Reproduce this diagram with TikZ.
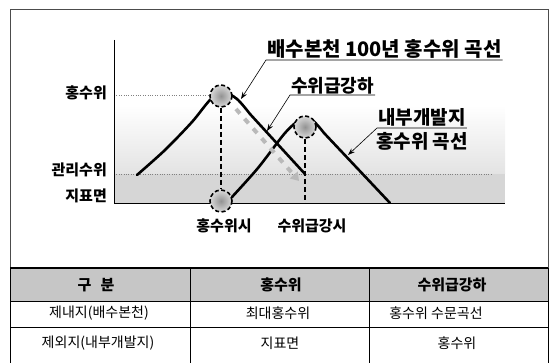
\documentclass[tikz,border=0pt]{standalone}
\usepackage{fontspec}
\setmainfont{Noto Sans CJK KR}
\usetikzlibrary{arrows.meta}

\tikzset{
  curve/.style={black, line width=2.6pt, line cap=round, line join=round},
  spot/.style={circle, draw=black, line width=1.6pt, dash pattern=on 4pt off 2.5pt,
    minimum size=22pt, inner sep=0pt, inner color=gray!85, outer color=gray!30},
  leader/.style={black, line width=0.6pt, -{Stealth[length=7pt,width=5pt]}},
  axislbl/.style={font=\bfseries\fontsize{15}{15}\selectfont, inner sep=1pt},
  toplbl/.style={font=\bfseries\fontsize{19}{19}\selectfont, inner sep=1pt},
  refline/.style={gray, thin, dotted},
  cell/.style={font=\fontsize{14}{14}\selectfont, inner sep=0pt},
  headcell/.style={font=\bfseries\fontsize{15}{15}\selectfont, inner sep=0pt},
}

\begin{document}
\begin{tikzpicture}[x=1pt, y=-1pt]
	\useasboundingbox (0,0) rectangle (551,363);

	% frame
	\draw[line width=0.8pt, gray!60!black] (10,268) -- (10,9) -- (548,9) -- (548,268);

	% water zones
	\shade[top color=white, bottom color=gray!22] (114,105) rectangle (505,174);
	\fill[gray!32] (114,174) rectangle (505,203);

	% levels
	\draw[refline] (114,95) -- (210,95);
	\draw[refline] (114,174) -- (493,174);

	% axes
	\draw[black, line width=0.8pt] (114,40) -- (114,203) -- (505,203);

	% level labels
	\node[axislbl, anchor=east] (hwl) at (108,93) {홍수위};
	\node[axislbl, anchor=east] (mwl) at (108,170) {관리수위};
	\node[axislbl, anchor=east] (gnd) at (108,196) {지표면};

	% time labels
	\node[axislbl] (tflood) at (224,226) {홍수위시};
	\node[axislbl] (tdrop) at (312,226) {수위급강시};

	% curves
	\draw[curve] plot[smooth, tension=.5] coordinates {(137,175) (165,150) (192,122) (210,100) (223,92) (237,99) (250,114)} -- (305,174);
	\draw[curve] plot[smooth, tension=.5] coordinates {(232,197) (258,168) (285,133) (300,120) (312,120) (324,133)} -- (390,203);

	% sudden drop
	\draw[gray!55, line width=4pt, dash pattern=on 6pt off 7pt, -{Triangle[length=8pt,width=10pt]}] (236,109) -- (299,181);

	% marked points
	\node[spot] (peakA) at (221,96) {};
	\node[spot] (baseA) at (221,201) {};
	\node[spot] (peakB) at (305,127) {};
	\coordinate (baseB) at (305,203);
	\draw[black, line width=1.4pt, dash pattern=on 5pt off 3pt] (peakA.south) -- (baseA.north);
	\draw[black, line width=1.4pt, dash pattern=on 5pt off 3pt] (peakB.south) -- (baseB);

	% callouts
	\coordinate (tipA) at (241,99);
	\coordinate (tipB) at (267,131);
	\coordinate (tipC) at (348,155);
	\node[toplbl, font=\bfseries\fontsize{20}{20}\selectfont, anchor=south west] (lblA) at (266,60) {배수본천 100년 홍수위 곡선};
	\node[toplbl, font=\bfseries\fontsize{18}{18}\selectfont, anchor=south west] (lblB) at (290,95) {수위급강하};
	\node[toplbl, anchor=south west] (lblC) at (377,128) {내부개발지};
	\node[toplbl, anchor=north west] (lblD) at (375,131) {홍수위 곡선};
	\draw[leader] (lblA.south east) -- (lblA.south west) -- (tipA);
	\draw[leader] (lblB.south east) -- (lblB.south west) -- (tipB);
	\draw[leader] (lblC.south east) -- (lblC.south west) -- (tipC);

	% table
	\fill[gray!45] (10,268) rectangle (548,301);
	\draw[line width=1.5pt] (10,268) -- (548,268);
	\draw[thin] (10,301) -- (548,301);
	\draw[thin] (10,327) -- (548,327);
	\foreach \x in {10,190,369,548}
		\draw[thin] (\x,268) -- (\x,363);

	\node[headcell] (h1) at (96,285) {구\hspace{0.6em}분};
	\node[headcell] (h2) at (281,285) {홍수위};
	\node[headcell] (h3) at (452,285) {수위급강하};
	\node[cell] (r1a) at (99,313) {제내지(배수본천)};
	\node[cell] (r1b) at (278,313) {최대홍수위};
	\node[cell] (r1c) at (436,313) {홍수위 수문곡선};
	\node[cell] (r2a) at (98,343) {제외지(내부개발지)};
	\node[cell] (r2b) at (280,343) {지표면};
	\node[cell] (r2c) at (457,343) {홍수위};

\end{tikzpicture}
\end{document}
